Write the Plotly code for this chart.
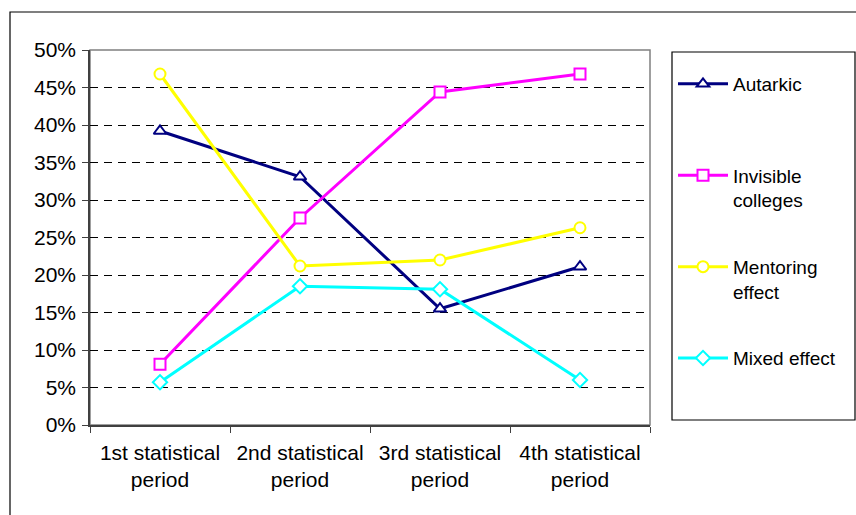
import plotly.graph_objects as go

categories = ["1st statistical<br>period", "2nd statistical<br>period",
              "3rd statistical<br>period", "4th statistical<br>period"]
autarkic = [0.392, 0.331, 0.155, 0.211]
invisible = [0.081, 0.276, 0.444, 0.468]
mentoring = [0.468, 0.212, 0.220, 0.263]
mixed = [0.057, 0.185, 0.181, 0.060]
y_ticks = [0, 0.05, 0.10, 0.15, 0.20, 0.25, 0.30, 0.35, 0.40, 0.45, 0.50]

series = [
    ("Autarkic<br>&nbsp;", autarkic, "#000080", "triangle-up", 11),
    ("Invisible<br>colleges", invisible, "#FF00FF", "square", 11),
    ("Mentoring<br>effect", mentoring, "#FFFF00", "circle", 11),
    ("Mixed effect", mixed, "#00FFFF", "diamond", 11),
]

FONT = "Liberation Sans, Arial, sans-serif"
FS = 21
fig = go.Figure()
for i, (name, vals, color, sym, size) in enumerate(series):
    fig.add_trace(go.Scatter(
        x=categories, y=vals, name=name, mode="lines+markers",
        line=dict(color=color, width=3),
        marker=dict(symbol=sym, size=size, color="white",
                    line=dict(color=color, width=2)),
        legendgroup=f"g{i}",
    ))

W, H = 856, 515
L, R, T, B = 90, 650, 50, 425
def px(x):
    return (x - L) / (R - L)
def py(y):
    return (B - y) / (B - T)

shapes = [
    # outer chart border
    dict(type="rect", xref="paper", yref="paper", x0=px(10), x1=px(880),
         y0=py(540), y1=py(12), line=dict(color="black", width=1.2), layer="below"),
    # plot area border
    dict(type="rect", xref="paper", yref="paper", x0=0, x1=1, y0=0, y1=1,
         line=dict(color="#808080", width=1.5), layer="below"),
    # legend box
    dict(type="rect", xref="paper", yref="paper", x0=px(672), x1=px(855),
         y0=py(420), y1=py(52), line=dict(color="black", width=1.2), layer="below"),
]

fig.update_layout(
    width=W, height=H,
    margin=dict(l=L, r=W - R, t=T, b=H - B),
    paper_bgcolor="white", plot_bgcolor="white",
    font=dict(family=FONT, size=FS, color="black"),
    shapes=shapes,
    showlegend=True,
    legend=dict(x=px(673), y=py(65), xanchor="left", yanchor="top",
                bgcolor="rgba(0,0,0,0)", borderwidth=0,
                tracegroupgap=39, valign="top", itemwidth=50,
                font=dict(family=FONT, size=19, color="black")),
    xaxis=dict(type="category", range=[-0.5, 3.5], tickson="boundaries",
               ticks="outside", ticklen=6, tickcolor="#404040",
               showline=True, linecolor="#404040", linewidth=1.5,
               showgrid=False, tickfont=dict(size=FS), ticklabelstandoff=8),
    yaxis=dict(range=[0, 0.5], tickvals=y_ticks, tickformat=".0%",
               ticks="outside", ticklen=6, tickcolor="#404040",
               showline=True, linecolor="#404040", linewidth=1.5,
               showgrid=True, gridcolor="black", gridwidth=1,
               griddash="8px,6px", zeroline=False, ticklabelstandoff=2,
               tickfont=dict(size=FS)),
)

fig.write_html("out.html")
